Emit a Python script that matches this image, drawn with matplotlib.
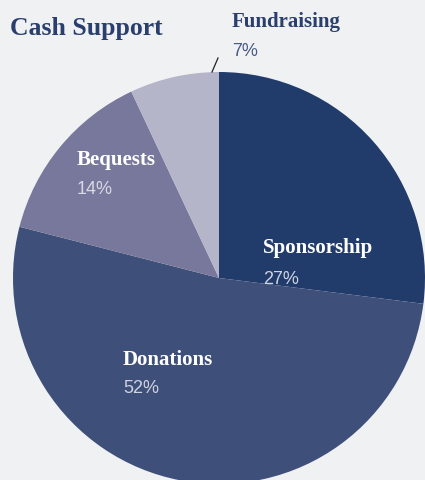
import matplotlib
matplotlib.use("Agg")
import matplotlib.pyplot as plt

# Cash support breakdown
categories = ["Sponsorship", "Donations", "Bequests", "Fundraising"]
shares = [27, 52, 14, 7]
colors = ["#213b6b", "#3e4f7a", "#77789b", "#b4b5c8"]

W, H = 425, 481
BG = "#f0f1f3"
NAVY = "#2a3f6e"

fig = plt.figure(figsize=(W / 100, H / 100), dpi=100, facecolor=BG)
ax = fig.add_axes([0, 0, 1, 1])
ax.set_facecolor(BG)

cx, cy, r = 219, H - 279, 206
ax.pie(shares, colors=colors, startangle=90, counterclock=False,
       center=(cx, cy), radius=r, frame=True,
       wedgeprops=dict(linewidth=0))
ax.set_xlim(0, W)
ax.set_ylim(0, H)
ax.set_aspect("equal")
ax.axis("off")


def px(x, y):
    return x, H - y


serif = ["Liberation Serif", "DejaVu Serif"]
sans = ["Liberation Sans", "DejaVu Sans"]

ax.text(*px(10, 28), "Cash Support", fontsize=18.5, fontweight="bold",
        family=serif, color=NAVY, va="center", ha="left")

labels = {
    "Sponsorship": (263, 248, 279, "white", "#cfd3e0"),
    "Donations": (123, 360, 389, "white", "#cfd3e0"),
    "Bequests": (77, 160, 189, "white", "#d8d9e4"),
    "Fundraising": (232, 22, 52, NAVY, "#4b5b87"),
}
for name, share in zip(categories, shares):
    x, yt, yp, c1, c2 = labels[name]
    ax.text(*px(x, yt), name, fontsize=15, fontweight="bold", family=serif,
            color=c1, va="center", ha="left")
    ax.text(*px(x, yp), f"{share}%", fontsize=13, family=sans,
            color=c2, va="center", ha="left")

# leader line for the small slice
ax.plot([212, 218], [H - 73, H - 59], color="#222222", lw=0.9)

fig.savefig("out.png", dpi=100, facecolor=BG)
